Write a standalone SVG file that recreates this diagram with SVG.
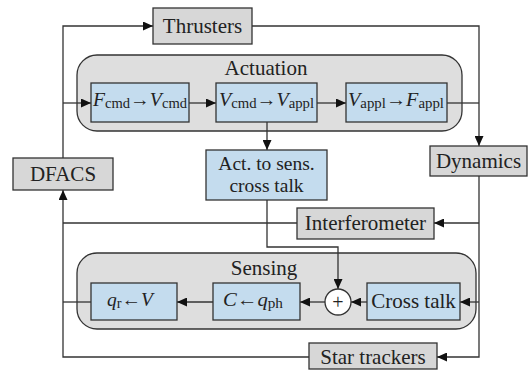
<svg xmlns="http://www.w3.org/2000/svg" width="530" height="372" viewBox="0 0 530 372" font-family="'Liberation Serif', 'DejaVu Serif', serif">
<defs>
<marker id="ah" markerUnits="userSpaceOnUse" markerWidth="10" markerHeight="9" refX="10" refY="4.5" orient="auto">
<path d="M0,0 L10,4.5 L0,9 z" fill="#111"/>
</marker>
<style>
.cont{fill:#dedede;stroke:#333;stroke-width:1.3}
.gray{fill:#d7d7d7;stroke:#333;stroke-width:1.3}
.blue{fill:#c4dcee;stroke:#333;stroke-width:1.3}
.t{font-size:21px;fill:#222;text-anchor:middle}
.m{font-size:19px;fill:#222}
.i{font-style:italic}
.s{font-size:14px}
.c{fill:none;stroke:#333;stroke-width:1.3}
.a{marker-end:url(#ah)}
</style>
</defs>
<rect width="530" height="372" fill="#fff"/>

<g id="actuation">
<rect class="cont" x="77" y="55" width="385" height="76" rx="20"/>
<text class="t" x="266" y="75" font-family="Liberation Serif, serif">Actuation</text>
</g>
<g id="sensing">
<rect class="cont" x="77" y="253" width="399" height="76" rx="20"/>
<text class="t" x="264" y="275" font-family="Liberation Serif, serif">Sensing</text>
</g>

<g id="connectors">
<path class="c a" d="M63,158 V26 H153"/>
<path class="c a" d="M63,103 H91"/>
<path class="c a" d="M189,103 H216"/>
<path class="c a" d="M317,103 H346"/>
<path class="c a" d="M252,26 H479 V146"/>
<path class="c" d="M447,103 H479"/>
<path class="c a" d="M267,122 V150"/>
<path class="c a" d="M479,176 V357 H437"/>
<path class="c a" d="M479,223 H434"/>
<path class="c a" d="M479,302 H460"/>
<path class="c" d="M297,223 H63"/>
<path class="c a" d="M309,357 H63 V190"/>
<path class="c a" d="M267,200 V247 H338 V289"/>
<path class="c a" d="M367,302 H351"/>
<path class="c a" d="M325,302 H300"/>
<path class="c a" d="M213,302 H177"/>
<path class="c" d="M91,302 H63"/>
</g>

<g id="thrusters">
<rect class="gray" x="153" y="8" width="99" height="36"/>
<text class="t" x="202.5" y="33">Thrusters</text>
</g>
<g id="dfacs">
<rect class="gray" x="13" y="158" width="100" height="32"/>
<text class="t" x="63" y="181">DFACS</text>
</g>
<g id="dynamics">
<rect class="gray" x="430" y="146" width="97" height="30"/>
<text class="t" x="478.5" y="168">Dynamics</text>
</g>
<g id="interferometer">
<rect class="gray" x="297" y="208" width="137" height="31"/>
<text class="t" x="365.5" y="230">Interferometer</text>
</g>
<g id="star-trackers">
<rect class="gray" x="309" y="343" width="128" height="26"/>
<text class="t" x="373" y="364">Star trackers</text>
</g>

<g id="fcmd-vcmd">
<rect class="blue" x="91" y="83" width="98" height="39"/>
<text class="m" x="93" y="106" textLength="94" lengthAdjust="spacingAndGlyphs"><tspan class="i">F</tspan><tspan class="s" dy="2">cmd</tspan><tspan dy="-2">→</tspan><tspan class="i">V</tspan><tspan class="s" dy="2">cmd</tspan></text>
</g>
<g id="vcmd-vappl">
<rect class="blue" x="216" y="83" width="101" height="39"/>
<text class="m" x="219" y="106" textLength="95" lengthAdjust="spacingAndGlyphs"><tspan class="i">V</tspan><tspan class="s" dy="2">cmd</tspan><tspan dy="-2">→</tspan><tspan class="i">V</tspan><tspan class="s" dy="2">appl</tspan></text>
</g>
<g id="vappl-fappl">
<rect class="blue" x="346" y="83" width="101" height="39"/>
<text class="m" x="348" y="106" textLength="96" lengthAdjust="spacingAndGlyphs"><tspan class="i">V</tspan><tspan class="s" dy="2">appl</tspan><tspan dy="-2">→</tspan><tspan class="i">F</tspan><tspan class="s" dy="2">appl</tspan></text>
</g>
<g id="act-to-sens">
<rect class="blue" x="206" y="150" width="121" height="50"/>
<text class="t" x="266.5" y="170" style="font-size:19.5px">Act. to sens.</text>
<text class="t" x="266.5" y="192" style="font-size:19.5px">cross talk</text>
</g>

<g id="qr-v">
<rect class="blue" x="91" y="283" width="86" height="37"/>
<text class="m" x="107" y="306" textLength="46" lengthAdjust="spacingAndGlyphs"><tspan class="i">q</tspan><tspan class="s" dy="2">r</tspan><tspan dy="-2">←</tspan><tspan class="i">V</tspan></text>
</g>
<g id="c-qph">
<rect class="blue" x="213" y="283" width="87" height="37"/>
<text class="m" x="223" y="306" textLength="60" lengthAdjust="spacingAndGlyphs"><tspan class="i">C</tspan><tspan>←</tspan><tspan class="i">q</tspan><tspan class="s" dy="2">ph</tspan></text>
</g>
<g id="sum">
<circle cx="338" cy="302" r="13" fill="#fff" stroke="#333" stroke-width="1.3"/>
<text class="t" x="338" y="309" style="font-size:20px">+</text>
</g>
<g id="cross-talk">
<rect class="blue" x="367" y="283" width="93" height="37"/>
<text class="t" x="413.5" y="308">Cross talk</text>
</g>
</svg>
